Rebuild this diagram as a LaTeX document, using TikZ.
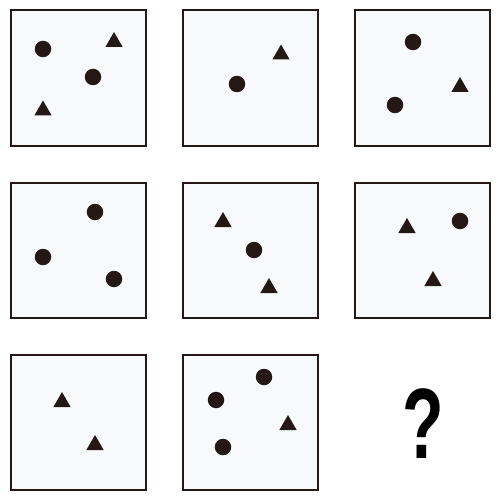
\documentclass[tikz,border=0pt]{standalone}
\usepackage{fontspec}
\setmainfont{Liberation Sans}
\usetikzlibrary{shapes.geometric}
\definecolor{ink}{RGB}{35,24,21}
\definecolor{panel}{RGB}{248,249,251}
\tikzset{
  panelbox/.style={draw=ink, line width=2pt, fill=panel, minimum width=135pt, minimum height=135pt, inner sep=0pt, outer sep=0pt},
  dot/.style={circle, fill=ink, minimum size=16.5pt, inner sep=0pt},
  tri/.style={regular polygon, regular polygon sides=3, fill=ink, minimum size=20pt, inner sep=0pt},
}
\begin{document}
\begin{tikzpicture}[x=1pt,y=-1pt]
\useasboundingbox[fill=white] (0,0) rectangle (500,500);
% panels
\node[panelbox] (p1) at (78,78) {};
\node[panelbox] (p2) at (250,78) {};
\node[panelbox] (p3) at (422.5,78) {};
\node[panelbox] (p4) at (78,250) {};
\node[panelbox] (p5) at (250,250) {};
\node[panelbox] (p6) at (422.5,250) {};
\node[panelbox] (p7) at (78,422.5) {};
\node[panelbox] (p8) at (250,422.5) {};
% panel 1
\node[dot] (c1a) at (43,49) {};
\node[dot] (c1b) at (93,77) {};
\node[tri] (t1a) at (114,42) {};
\node[tri] (t1b) at (43,110.5) {};
% panel 2
\node[dot] (c2a) at (237,84) {};
\node[tri] (t2a) at (281,54.5) {};
% panel 3
\node[dot] (c3a) at (413,42) {};
\node[dot] (c3b) at (395,105) {};
\node[tri] (t3a) at (460,87) {};
% panel 4
\node[dot] (c4a) at (95,212) {};
\node[dot] (c4b) at (43,257) {};
\node[dot] (c4c) at (114,279) {};
% panel 5
\node[tri] (t5a) at (223,222) {};
\node[dot] (c5a) at (254,250) {};
\node[tri] (t5b) at (269,288) {};
% panel 6
\node[tri] (t6a) at (407,228) {};
\node[dot] (c6a) at (460,221) {};
\node[tri] (t6b) at (433,281) {};
% panel 7
\node[tri] (t7a) at (62,402) {};
\node[tri] (t7b) at (95,445) {};
% panel 8
\node[dot] (c8a) at (264,377) {};
\node[dot] (c8b) at (216,400) {};
\node[tri] (t8a) at (288,425) {};
\node[dot] (c8c) at (223,447) {};
% question mark
\node[inner sep=0pt, font=\bfseries\fontsize{100}{100}\selectfont, xscale=0.68, transform shape] (q) at (423,423.5) {?};
\end{tikzpicture}
\end{document}
